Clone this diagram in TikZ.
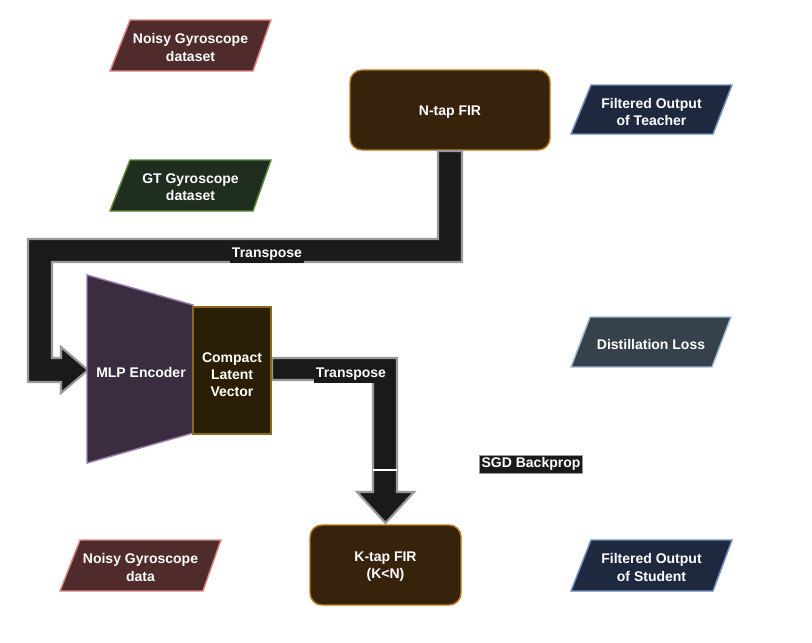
\documentclass[tikz,border=0pt]{standalone}
\usepackage{fontspec}
\setmainfont{Liberation Sans}
\begin{document}
\begin{tikzpicture}[x=0.75pt,y=-0.75pt,
  lbl/.style={text=white,font=\bfseries\fontsize{10.5}{12.8}\selectfont,align=center,inner sep=0pt,yshift=-1.5pt},
  tag/.style={lbl,fill=arrowfill,inner xsep=1.5pt,inner ysep=2pt},
  para/.style={line width=1.1pt,line join=miter},
  bigarrow/.style={fill=arrowfill,draw=arrowline,line width=1.6pt,line join=miter}]
\definecolor{noisyfill}{HTML}{4F2B2B}
\definecolor{noisyline}{HTML}{E08A85}
\definecolor{firfill}{HTML}{37220C}
\definecolor{firline}{HTML}{B97A18}
\definecolor{outfill}{HTML}{1E2940}
\definecolor{outline}{HTML}{7090C0}
\definecolor{gtfill}{HTML}{1F2E1E}
\definecolor{gtline}{HTML}{5A8A3A}
\definecolor{lossfill}{HTML}{36414B}
\definecolor{lossline}{HTML}{A3BED8}
\definecolor{mlpfill}{HTML}{3B2D40}
\definecolor{mlpline}{HTML}{9A7AAA}
\definecolor{latfill}{HTML}{2A1E05}
\definecolor{latline}{HTML}{8A6A1A}
\definecolor{arrowfill}{HTML}{1A1A1A}
\definecolor{arrowline}{HTML}{999999}
\useasboundingbox (0,0) rectangle (812,642);

% parallelograms
\draw[para,fill=noisyfill,draw=noisyline] (130,20)--(271,20)--(253,71)--(110,71)--cycle;
\node[lbl] (noisyds) at (190.5,45.5) {Noisy Gyroscope\\dataset};

\draw[para,fill=gtfill,draw=gtline] (130,160)--(271,160)--(253,211)--(110,211)--cycle;
\node[lbl] (gtds) at (190.5,185.5) {GT Gyroscope\\dataset};

\draw[para,fill=outfill,draw=outline] (591,85)--(732,85)--(713,134)--(571,134)--cycle;
\node[lbl] (teacher) at (651.5,110) {Filtered Output\\of Teacher};

\draw[para,fill=lossfill,draw=lossline] (590,317)--(731,317)--(712,367)--(571,367)--cycle;
\node[lbl] (loss) at (651,342) {Distillation Loss};

\draw[para,fill=outfill,draw=outline] (591,540)--(732,540)--(713,591)--(571,591)--cycle;
\node[lbl] (student) at (651.5,565.5) {Filtered Output\\of Student};

\draw[para,fill=noisyfill,draw=noisyline] (80,540)--(221,540)--(203,591)--(60,591)--cycle;
\node[lbl] (noisyd) at (140.5,565.5) {Noisy Gyroscope\\data};

% FIR boxes
\draw[para,fill=firfill,draw=firline,rounded corners=9pt] (350,70) rectangle (550,150);
\node[lbl] (nfir) at (450,110) {N-tap FIR};

\draw[para,fill=firfill,draw=firline,rounded corners=9pt] (310,525) rectangle (461,605);
\node[lbl] (kfir) at (385.5,565) {K-tap FIR\\(K<N)};

% arrow from N-tap FIR to MLP encoder
\draw[bigarrow] (438,151)--(462,151)--(462,262)--(52,262)--(52,358)--(61,358)--(61,347)--(88,370)--(61,393)--(61,382)--(28,382)--(28,239)--(438,239)--cycle;
\node[tag] (tr1) at (267,252) {Transpose};

% MLP encoder and latent vector
\draw[para,fill=mlpfill,draw=mlpline] (87,275)--(193,305)--(193,433)--(87,463)--cycle;
\node[lbl] (mlp) at (141,370) {MLP Encoder};

% arrow from latent vector to K-tap FIR
\draw[bigarrow] (272,358)--(397,358)--(397,492)--(414,492)--(385.5,523)--(357,492)--(373,492)--(373,380)--(272,380)--cycle;
\draw[white,line width=0.8pt] (373,470)--(397,470);

\draw[para,fill=latfill,draw=latline] (193,307) rectangle (271,434);
\node[lbl] (latent) at (232,373) {Compact\\Latent\\Vector};

\node[tag] (tr2) at (351,372.5) {Transpose};
\node[tag,draw=arrowline,line width=0.4pt] (sgd) at (531,462) {SGD Backprop};
\end{tikzpicture}
\end{document}
